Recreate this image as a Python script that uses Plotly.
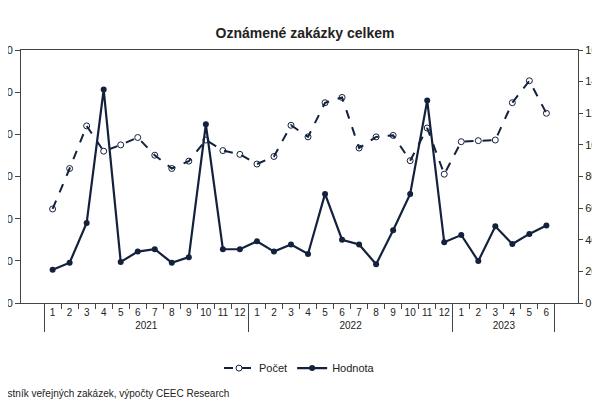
import plotly.graph_objects as go

years = ["2021"] * 12 + ["2022"] * 12 + ["2023"] * 6
months = [str(m) for m in range(1, 13)] * 2 + [str(m) for m in range(1, 7)]

# Počet on the left axis (scaled), Hodnota on the right axis
pocet = [446, 638, 840, 720, 750, 785, 701, 638, 673, 773, 723, 705,
         659, 695, 843, 788, 950, 975, 735, 788, 795, 675, 830, 611,
         765, 770, 773, 950, 1054, 900]
hodnota = [21, 25.5, 50.6, 135, 26, 32.5, 34, 25.5, 29, 113, 34, 34,
           39, 32.5, 37, 31, 69, 40, 37, 24.5, 46, 69, 128, 38.4,
           43, 26.5, 48.5, 37.3, 43.7, 49]

navy = "#14213d"
fig = go.Figure()
fig.add_trace(go.Scatter(x=[years, months], y=pocet, name="Počet", mode="lines+markers",
                         line=dict(color=navy, width=2, dash="dash"),
                         marker=dict(symbol="circle-open", size=6, color=navy, line=dict(width=1))))
fig.add_trace(go.Scatter(x=[years, months], y=hodnota, name="Hodnota", mode="lines+markers",
                         yaxis="y2", line=dict(color=navy, width=2.2),
                         marker=dict(symbol="circle", size=6, color=navy)))

fig.update_layout(
    width=600, height=400,
    margin=dict(l=13, r=30, t=42, b=105),
    paper_bgcolor="white", plot_bgcolor="white",
    font=dict(family="Liberation Sans, Arial", size=11, color="#222"),
    title=dict(text="<b>Oznámené zakázky celkem</b>", x=0.495, y=0.95, font=dict(size=14)),
    xaxis=dict(type="multicategory", showline=True, linecolor="#444", mirror=True,
               tickangle=0, ticks="outside", showdividers=True, dividercolor="#444",
               tickfont=dict(size=10), automargin=False),
    yaxis=dict(range=[0, 1200], dtick=200, showgrid=False, showline=True, linecolor="#444",
               ticks="outside", automargin=False, tickfont=dict(size=11)),
    yaxis2=dict(range=[0, 160], dtick=20, overlaying="y", side="right", showgrid=False,
                showline=True, linecolor="#444", ticks="outside", ticklen=4,
                ticklabelstandoff=0, automargin=False),
    legend=dict(orientation="h", x=0.5, xanchor="center", y=-0.2, yanchor="top"),
    annotations=[dict(text="Zdroj: Věstník veřejných zakázek, výpočty CEEC Research",
                      xref="paper", yref="paper", x=-0.10, y=-0.33, xanchor="left",
                      yanchor="top", showarrow=False, font=dict(size=10))],
)
fig.write_html("out.html")
